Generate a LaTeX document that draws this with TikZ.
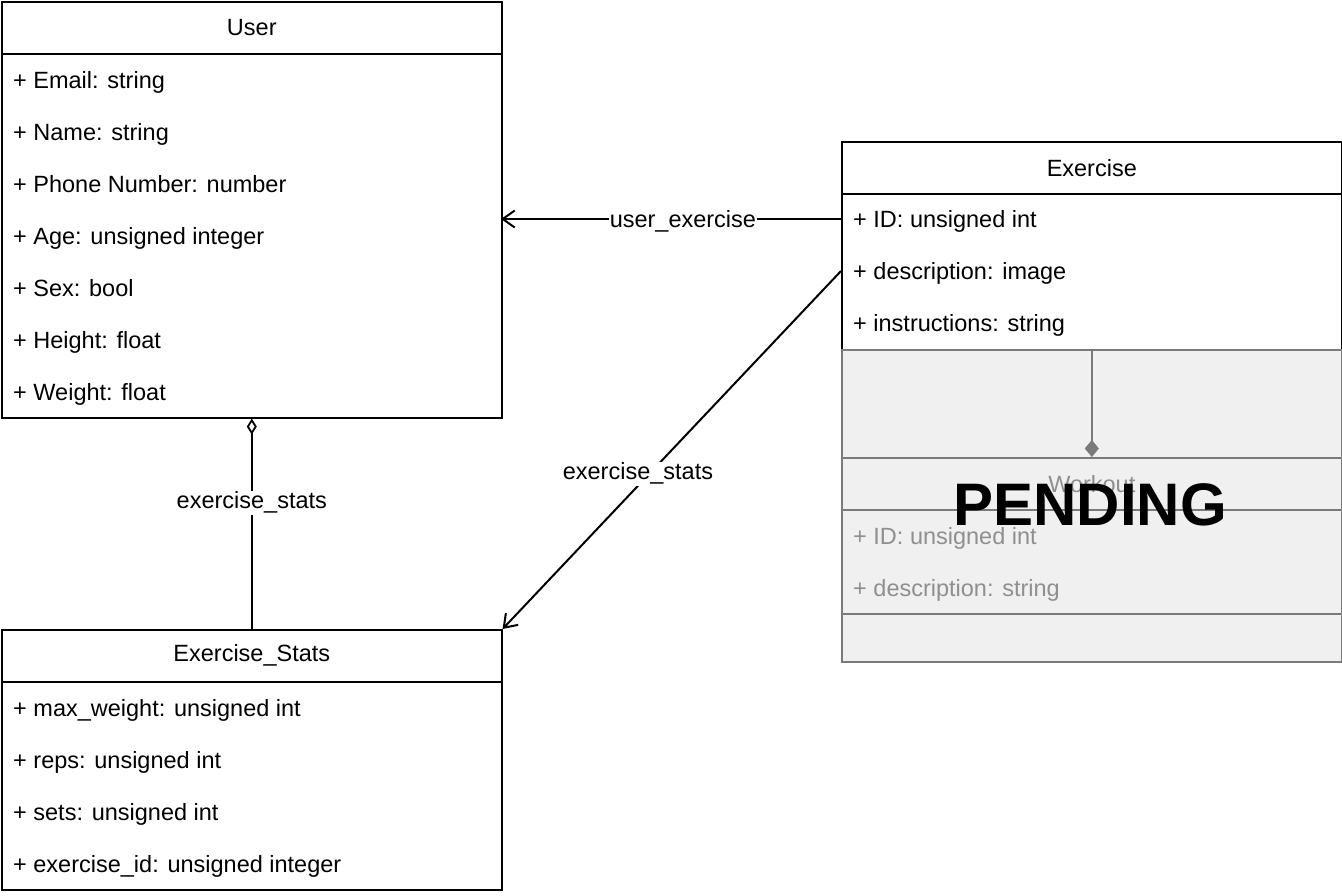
\documentclass[tikz,border=0pt]{standalone}
\usepackage{fontspec}
\setmainfont{Liberation Sans}
\usetikzlibrary{arrows.meta}
\definecolor{greyfill}{HTML}{F0F0F0}
\definecolor{greyline}{HTML}{7A7A7A}
\definecolor{greytext}{HTML}{8F8F8F}
\begin{document}
\begin{tikzpicture}[x=1pt,y=-1pt,
  font=\fontsize{23.5}{28}\selectfont,
  box/.style={draw=black, line width=1.6pt, fill=white, minimum width=500pt, anchor=north west, inner sep=0pt},
  gbox/.style={draw=greyline, line width=1.6pt, fill=greyfill, minimum width=500pt, anchor=north west, inner sep=0pt},
  row/.style={anchor=base west, inner sep=0pt, yshift=-8.5pt},
  greyrow/.style={anchor=base west, inner sep=0pt, yshift=-8.5pt, text=greytext},
  conn/.style={draw=black, line width=2pt},
  lbl/.style={fill=white, inner sep=1pt},
  openarrow/.style={-{Straight Barb[length=12pt, width=17pt, line width=2pt]}},
  odiamond/.style={{Diamond[open, length=16pt, width=10pt, line width=1.8pt]}-}
]
\useasboundingbox (0,0) rectangle (1342,896);
\fill[white] (0,0) rectangle (1342,896);

% User
\node[box, minimum height=416pt] (user) at (1,1) {};
\node[box, minimum height=52pt] (userh) at (1,1) {User};
\node[row] (u1) at (13,80) {+ Email: string};
\node[row] (u2) at (13,132) {+ Name: string};
\node[row] (u3) at (13,184) {+ Phone Number: number};
\node[row] (u4) at (13,236) {+ Age: unsigned integer};
\node[row] (u5) at (13,288) {+ Sex: bool};
\node[row] (u6) at (13,340) {+ Height: float};
\node[row] (u7) at (13,392) {+ Weight: float};

% Exercise_Stats
\node[box, minimum height=260pt] (stats) at (1,629) {};
\node[box, minimum height=52pt] (statsh) at (1,629) {Exercise\_Stats};
\node[row] (s1) at (13,708) {+ max\_weight: unsigned int};
\node[row] (s2) at (13,760) {+ reps: unsigned int};
\node[row] (s3) at (13,812) {+ sets: unsigned int};
\node[row] (s4) at (13,864) {+ exercise\_id: unsigned integer};

% Exercise
\node[box, minimum height=208pt] (exercise) at (841,141) {};
\node[box, minimum height=52pt] (exerciseh) at (841,141) {Exercise};
\node[row] (e1) at (853,219) {+ ID: unsigned int};
\node[row] (e2) at (853,271) {+ description: image};
\node[row] (e3) at (853,323) {+ instructions: string};

% grey pending area
\node[gbox, minimum height=312pt] (greyarea) at (841,349) {};
\node[gbox, minimum height=156pt] (workout) at (841,457) {};
\node[gbox, minimum height=52pt, text=greytext] (workouth) at (841,457) {Workout};
\node[greyrow] (w1) at (853,536) {+ ID: unsigned int};
\node[greyrow] (w2) at (853,588) {+ description: string};
\draw[draw=greyline, line width=1.8pt, -{Diamond[fill=greyline, length=17pt, width=14pt, line width=0.5pt]}]
  (exercise.south) -- (workout.north);

\node[font=\fontsize{60}{60}\selectfont\bfseries, inner sep=0pt] (pending) at (1090,505) {PENDING};

% connectors
\coordinate (ue_start) at (841,219);
\coordinate (ue_end) at (501,219);
\draw[conn, openarrow] (ue_start) -- node[lbl, pos=0.465, yshift=-2pt] (uelbl) {user\_exercise} (ue_end);

\coordinate (es_start) at (841,271);
\draw[conn, openarrow] (es_start) -- node[lbl, pos=0.6, yshift=12pt] (eslbl) {exercise\_stats} (stats.north east);

\draw[conn, odiamond] (user.south) -- node[lbl, pos=0.4] (uslbl) {exercise\_stats} (stats.north);
\end{tikzpicture}
\end{document}
